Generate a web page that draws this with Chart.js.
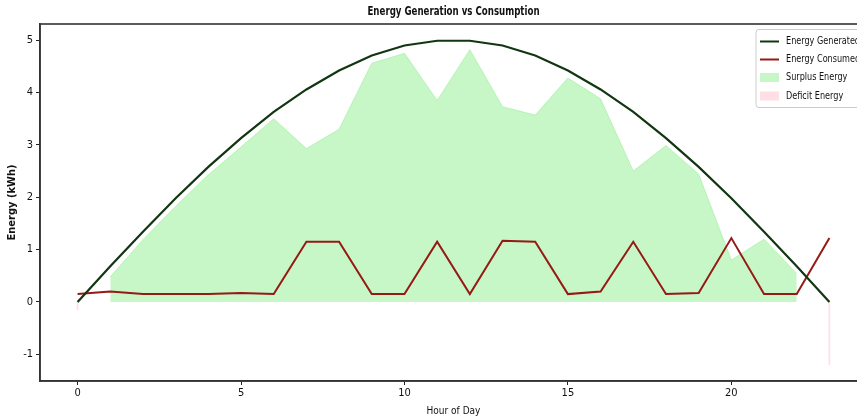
<!DOCTYPE html>
<html>
<head>
<meta charset="utf-8">
<script src="https://cdn.jsdelivr.net/npm/chart.js@4"></script>
<style>
html,body{margin:0;padding:0;background:#fff;overflow:hidden;}
#wrap{width:880px;height:419px;}
</style>
</head>
<body>
<div id="wrap"><canvas id="c" width="880" height="419" style="width:880px;height:419px"></canvas></div>
<script>
const hours = [0,1,2,3,4,5,6,7,8,9,10,11,12,13,14,15,16,17,18,19,20,21,22,23];
const generated = [0,0.68,1.34,1.98,2.58,3.13,3.63,4.06,4.42,4.71,4.90,4.99,4.99,4.90,4.71,4.42,4.06,3.63,3.13,2.58,1.98,1.34,0.68,0];
const consumed = [0.15,0.20,0.15,0.15,0.15,0.17,0.15,1.15,1.15,0.15,0.15,1.15,0.15,1.17,1.15,0.15,0.20,1.15,0.15,0.17,1.22,0.15,0.15,1.22];
const surplusHours = [1,2,3,4,5,6,7,8,9,10,11,12,13,14,15,16,17,18,19,20,21,22];
const surplus = [0.48,1.19,1.83,2.43,2.96,3.50,2.93,3.30,4.56,4.75,3.85,4.82,3.73,3.57,4.28,3.88,2.50,2.99,2.44,0.80,1.20,0.54];
const deficitHours = [0,23];
const deficit = [-0.15,-1.2];
const xTicks = [0,5,10,15,20];
const yTicks = [-1,0,1,2,3,4,5];

const FONT = "'DejaVu Sans Condensed','DejaVu Sans',sans-serif";

function squeezedText(ctx, text, x, y, sx){
  ctx.save();
  ctx.translate(x, y);
  ctx.scale(sx, 1);
  ctx.fillText(text, 0, 0);
  ctx.restore();
}

const frameAndTitle = {
  id:'frameAndTitle',
  afterDraw(chart){
    const a = chart.chartArea, ctx = chart.ctx;
    ctx.save();
    ctx.strokeStyle = '#333';
    ctx.lineWidth = 1.6;
    ctx.strokeRect(a.left, a.top, a.right - a.left, a.bottom - a.top);
    ctx.fillStyle = '#111';
    ctx.font = "bold 12px " + FONT;
    ctx.textAlign = 'center';
    ctx.textBaseline = 'middle';
    squeezedText(ctx, 'Energy Generation vs Consumption', (a.left + a.right)/2, 12, 0.8);
    // legend
    const lx = 756, ly = 29.5, lw = 120, lh = 78;
    ctx.beginPath();
    if (ctx.roundRect) ctx.roundRect(lx, ly, lw, lh, 3); else ctx.rect(lx, ly, lw, lh);
    ctx.fillStyle = 'rgba(255,255,255,0.85)';
    ctx.fill();
    ctx.strokeStyle = '#cccccc';
    ctx.lineWidth = 1;
    ctx.stroke();
    const ds = chart.data.datasets;
    const rows = [41.5, 59.5, 77.5, 96];
    ctx.font = "11px " + FONT;
    ctx.textAlign = 'left';
    ds.forEach((d, i) => {
      const y = rows[i];
      if (d.legendKind === 'line') {
        ctx.strokeStyle = d.borderColor;
        ctx.lineWidth = 2;
        ctx.beginPath(); ctx.moveTo(760, y); ctx.lineTo(779, y); ctx.stroke();
      } else {
        ctx.fillStyle = d.backgroundColor;
        ctx.fillRect(760, y - 4.5, 19, 9);
      }
      ctx.fillStyle = '#111';
      squeezedText(ctx, d.label, 786, y, 0.82);
    });
    ctx.restore();
  }
};

new Chart(document.getElementById('c'), {
  type: 'line',
  data: {
    datasets: [
      { label:'Energy Generated', legendKind:'line', data: hours.map((h,i)=>({x:h,y:generated[i]})),
        borderColor:'#113611', borderWidth:2.2, pointRadius:0, fill:false, tension:0 },
      { label:'Energy Consumed', legendKind:'line', data: hours.map((h,i)=>({x:h,y:consumed[i]})),
        borderColor:'#951a16', borderWidth:2, pointRadius:0, fill:false, tension:0 },
      { label:'Surplus Energy', legendKind:'box', data: surplusHours.map((h,i)=>({x:h,y:surplus[i]})),
        borderColor:'rgba(144,238,144,0.5)', backgroundColor:'rgba(144,238,144,0.5)', borderWidth:1,
        pointRadius:0, fill:'origin', tension:0 },
      { type:'bar', label:'Deficit Energy', legendKind:'box', data: deficitHours.map((h,i)=>({x:h,y:deficit[i]})),
        backgroundColor:'rgba(255,192,203,0.5)', borderWidth:0, barThickness:1 }
    ]
  },
  options: {
    responsive:false,
    animation:false,
    layout:{ padding:{ left:0, right:13, top:24, bottom:0 } },
    plugins:{ legend:{display:false}, title:{display:false}, tooltip:{enabled:false} },
    scales:{
      x:{
        type:'linear', min:-1.15, max:24.15, offset:false,
        afterBuildTicks(ax){ ax.ticks = xTicks.map(v=>({value:v})); },
        afterFit(ax){ ax.height = 38; },
        grid:{ display:true, offset:false, drawOnChartArea:false, drawTicks:true, tickLength:4, color:'#222' },
        border:{ display:true, color:'#333', width:1.6 },
        ticks:{ color:'#111', font:{ size:11, family:FONT }, padding:2, maxRotation:0, autoSkip:false },
        title:{ display:true, text:'Hour of Day', color:'#111', font:{ size:10, family:FONT }, padding:{top:2,bottom:2} }
      },
      y:{
        type:'linear', min:-1.51, max:5.31,
        afterBuildTicks(ax){ ax.ticks = yTicks.map(v=>({value:v})); },
        afterFit(ax){ ax.width = 40; },
        grid:{ display:true, offset:false, drawOnChartArea:false, drawTicks:true, tickLength:4, color:'#222' },
        border:{ display:true, color:'#333', width:1.6 },
        ticks:{ color:'#111', font:{ size:11, family:FONT }, padding:3 },
        title:{ display:true, text:'Energy (kWh)', color:'#111', font:{ size:11, weight:'bold', family:FONT }, padding:{top:6,bottom:0} }
      }
    }
  },
  plugins:[frameAndTitle]
});
</script>
</body>
</html>
